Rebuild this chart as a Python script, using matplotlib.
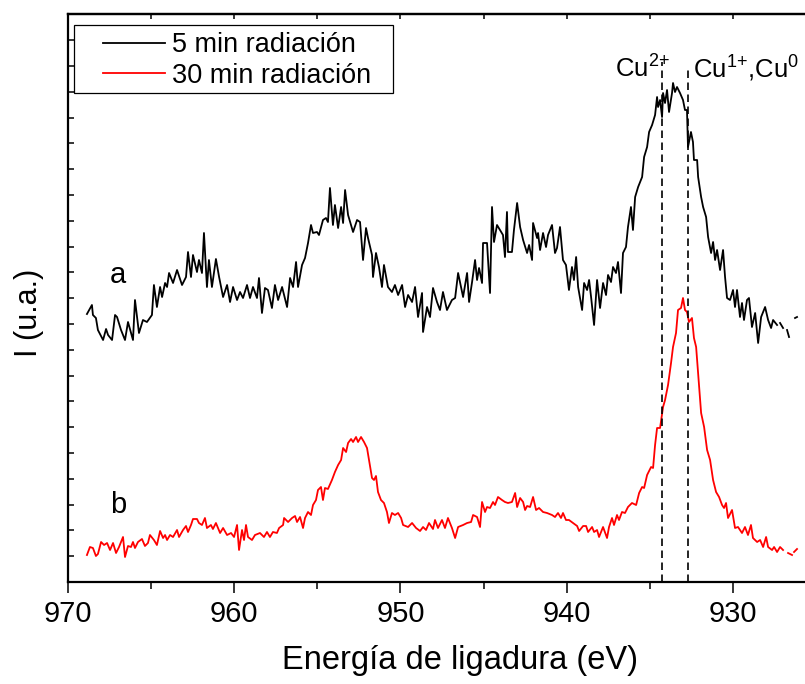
import numpy as np
import matplotlib
matplotlib.use('Agg')
import matplotlib.pyplot as plt
from matplotlib.ticker import MultipleLocator
from matplotlib.patches import Rectangle

plt.rcParams['font.family'] = ['Liberation Sans', 'DejaVu Sans']
plt.rcParams['mathtext.fontset'] = 'custom'
plt.rcParams['mathtext.rm'] = 'Liberation Sans'
plt.rcParams['mathtext.default'] = 'rm'

nan = np.nan

# Cu 2p XPS spectrum, 5 min irradiation (curve a)
energy_5min = [
    968.86, 968.56, 968.50, 968.32, 968.20, 967.89, 967.71, 967.59, 967.35, 967.17,
    967.05, 966.81, 966.57, 966.39, 966.09, 965.97, 965.73, 965.49, 965.25, 964.95,
    964.83, 964.65, 964.46, 964.34, 964.16, 964.04, 963.92, 963.68, 963.44, 963.14,
    962.90, 962.78, 962.60, 962.48, 962.24, 962.12, 961.94, 961.82, 961.64, 961.52,
    961.34, 961.10, 960.91, 960.67, 960.43, 960.25, 960.07, 959.83, 959.65, 959.47,
    959.23, 959.05, 958.87, 958.63, 958.51, 958.33, 958.15, 957.97, 957.73, 957.55,
    957.36, 957.12, 956.82, 956.64, 956.46, 956.28, 956.16, 955.92, 955.74, 955.56,
    955.38, 955.26, 955.02, 954.90, 954.66, 954.48, 954.36, 954.24, 954.06, 953.94,
    953.75, 953.57, 953.45, 953.33, 953.15, 952.85, 952.61, 952.43, 952.25, 952.07,
    951.95, 951.71, 951.65, 951.47, 951.29, 951.11, 950.99, 950.75, 950.51, 950.33,
    950.14, 949.90, 949.72, 949.54, 949.30, 949.12, 948.94, 948.70, 948.64, 948.40,
    948.22, 948.04, 947.80, 947.62, 947.44, 947.20, 946.90, 946.71, 946.53, 946.23,
    945.99, 945.87, 945.69, 945.51, 945.39, 945.27, 945.09, 945.03, 944.79, 944.61,
    944.49, 944.37, 944.19, 944.01, 943.83, 943.71, 943.59, 943.53, 943.29, 943.17,
    942.98, 942.80, 942.62, 942.38, 942.26, 942.08, 942.02, 941.78, 941.72, 941.60,
    941.42, 941.24, 941.12, 940.88, 940.70, 940.58, 940.40, 940.22, 940.04, 939.86,
    939.68, 939.56, 939.43, 939.31, 939.07, 938.95, 938.77, 938.65, 938.53, 938.35,
    938.17, 937.99, 937.81, 937.63, 937.51, 937.33, 937.21, 937.03, 936.91, 936.73,
    936.61, 936.43, 936.31, 936.13, 936.01, 935.88, 935.70, 935.46, 935.34, 935.16,
    935.04, 934.86, 934.68, 934.56, 934.50, 934.38, 934.26, 934.20, 934.08, 933.96,
    933.84, 933.66, 933.60, 933.48, 933.36, 933.18, 933.00, 932.88, 932.76, 932.70,
    932.52, 932.40, 932.34, 932.15, 932.09, 931.91, 931.79, 931.61, 931.49, 931.31,
    931.19, 931.07, 930.95, 930.77, 930.59, 930.47, 930.35, 930.17, 929.99, 929.87,
    929.75, 929.57, 929.45, 929.33, 929.15, 929.03, 928.85, 928.66, 928.48, 928.30,
    928.06, 927.88, 927.70, 927.58, 927.34, 927.25, 927.16, 926.98, 926.86, 926.74,
    926.62, 926.44, 926.26, 926.14,
]
counts_5min = [
    268, 277, 267, 264, 252, 242, 253, 247, 242, 267,
    265, 252, 242, 260, 242, 282, 249, 262, 260, 267,
    297, 275, 295, 285, 299, 295, 309, 299, 312, 297,
    305, 330, 305, 327, 310, 322, 309, 349, 295, 322,
    295, 323, 305, 285, 297, 280, 295, 282, 290, 284,
    297, 284, 295, 284, 304, 269, 294, 292, 274, 297,
    282, 295, 275, 304, 295, 320, 295, 317, 324, 339,
    357, 349, 350, 347, 362, 364, 360, 394, 357, 377,
    354, 375, 359, 392, 367, 350, 362, 360, 322, 354,
    344, 327, 305, 329, 315, 295, 317, 295, 290, 297,
    287, 297, 275, 287, 280, 295, 265, 289, 250, 275,
    265, 294, 280, 272, 290, 272, 282, 284, 309, 285,
    309, 280, 300, 322, 302, 314, 299, 339, 339, 289,
    375, 340, 357, 352, 347, 325, 370, 330, 330, 352,
    379, 355, 342, 329, 337, 322, 359, 344, 349, 332,
    349, 335, 347, 357, 329, 334, 355, 322, 317, 292,
    315, 302, 325, 295, 272, 299, 292, 302, 285, 257,
    302, 274, 299, 287, 307, 300, 315, 309, 320, 289,
    329, 335, 355, 375, 352, 385, 395, 405, 425, 435,
    450, 457, 467, 485, 475, 482, 465, 489, 479, 492,
    470, 489, 499, 490, 495, 489, 482, 472, 472, 435,
    450, 440, 422, 422, 405, 385, 375, 365, 345, 329,
    340, 322, 332, 312, 332, 305, 284, 282, 292, 275,
    292, 265, 279, 262, 282, 284, 255, 269, 239, 265,
    275, 262, 254, 262, 257, nan, 259, 254, nan, 252,
    245, nan, 264, 265,
]

# Cu 2p XPS spectrum, 30 min irradiation (curve b)
energy_30min = [
    968.86, 968.68, 968.50, 968.32, 968.20, 968.01, 967.83, 967.65, 967.47, 967.29,
    967.11, 966.93, 966.69, 966.57, 966.39, 966.21, 966.09, 965.97, 965.79, 965.55,
    965.37, 965.19, 965.07, 964.83, 964.65, 964.46, 964.28, 964.16, 964.04, 963.86,
    963.68, 963.44, 963.32, 963.08, 962.90, 962.78, 962.60, 962.48, 962.24, 962.12,
    961.94, 961.76, 961.64, 961.40, 961.28, 961.10, 960.85, 960.67, 960.43, 960.19,
    960.01, 959.83, 959.71, 959.53, 959.41, 959.29, 959.17, 958.93, 958.75, 958.45,
    958.21, 958.03, 957.85, 957.67, 957.43, 957.30, 957.06, 957.00, 956.76, 956.52,
    956.34, 956.22, 956.04, 955.86, 955.74, 955.56, 955.38, 955.26, 955.08, 954.96,
    954.78, 954.66, 954.54, 954.36, 954.12, 953.94, 953.75, 953.57, 953.45, 953.27,
    953.15, 952.97, 952.85, 952.67, 952.55, 952.37, 952.19, 952.01, 951.89, 951.71,
    951.59, 951.47, 951.35, 951.17, 950.99, 950.81, 950.69, 950.51, 950.33, 950.14,
    949.96, 949.84, 949.54, 949.30, 949.06, 948.82, 948.64, 948.46, 948.28, 948.04,
    947.92, 947.74, 947.50, 947.32, 947.14, 946.90, 946.71, 946.53, 946.23, 945.99,
    945.75, 945.63, 945.39, 945.21, 945.09, 944.91, 944.79, 944.61, 944.43, 944.31,
    944.13, 943.89, 943.71, 943.53, 943.29, 943.10, 942.98, 942.80, 942.62, 942.50,
    942.38, 942.20, 942.02, 941.84, 941.66, 941.42, 941.18, 940.88, 940.70, 940.52,
    940.34, 940.22, 940.04, 939.86, 939.62, 939.37, 939.25, 939.01, 938.83, 938.71,
    938.47, 938.35, 938.17, 938.05, 937.81, 937.57, 937.45, 937.27, 937.15, 936.97,
    936.85, 936.67, 936.49, 936.31, 936.07, 935.82, 935.64, 935.46, 935.34, 935.16,
    934.92, 934.80, 934.68, 934.56, 934.38, 934.20, 934.08, 933.90, 933.72, 933.60,
    933.42, 933.30, 933.12, 933.00, 932.88, 932.76, 932.64, 932.46, 932.34, 932.21,
    932.09, 931.91, 931.73, 931.55, 931.37, 931.19, 931.01, 930.83, 930.65, 930.53,
    930.41, 930.29, 930.05, 929.87, 929.69, 929.45, 929.27, 929.09, 928.91, 928.79,
    928.54, 928.36, 928.18, 928.00, 927.88, 927.64, 927.52, 927.34, 927.16, 926.98,
    926.83, 926.68, 926.44, 926.38, 926.32, 926.14,
]
counts_30min = [
    27, 35, 34, 26, 28, 40, 37, 39, 32, 39,
    29, 35, 45, 25, 36, 35, 40, 34, 40, 43,
    36, 39, 47, 42, 37, 51, 44, 47, 42, 47,
    45, 52, 45, 52, 56, 50, 57, 63, 63, 59,
    57, 64, 54, 57, 53, 59, 49, 54, 47, 49,
    45, 57, 32, 52, 42, 57, 45, 42, 47, 49,
    45, 50, 45, 50, 49, 54, 57, 64, 60, 64,
    66, 60, 65, 54, 64, 70, 67, 77, 82, 92,
    95, 82, 94, 93, 102, 110, 117, 122, 134, 130,
    139, 143, 140, 145, 140, 145, 140, 134, 122, 104,
    102, 106, 90, 82, 79, 70, 59, 69, 67, 69,
    64, 57, 55, 59, 54, 51, 55, 52, 59, 53,
    62, 54, 62, 54, 64, 54, 44, 55, 57, 59,
    60, 67, 65, 55, 80, 70, 75, 74, 80, 77,
    85, 82, 80, 79, 80, 89, 75, 84, 80, 72,
    76, 75, 85, 72, 74, 70, 69, 67, 65, 69,
    64, 69, 62, 62, 59, 56, 51, 56, 56, 50,
    55, 50, 52, 45, 55, 44, 55, 64, 57, 67,
    62, 70, 69, 75, 79, 77, 89, 95, 94, 107,
    115, 114, 137, 154, 154, 175, 182, 197, 219, 235,
    249, 272, 274, 284, 272, 270, 260, 264, 244, 235,
    209, 169, 155, 132, 122, 102, 90, 85, 77, 74,
    79, 64, 72, 54, 55, 49, 55, 47, 57, 44,
    40, 42, 35, 45, 35, 32, 35, 30, 35, 32,
    nan, 29, 27, nan, 30, 33,
]

peak_labels = ['Cu$^{2{+}}$', 'Cu$^{1{+}}$,Cu$^{0}$']
peak_energies = [934.26, 932.70]

fig = plt.figure(figsize=(8.05, 6.84), dpi=100)
ax = fig.add_axes([68 / 805, 1 - 582 / 684, 737 / 805, 568 / 684])

ax.plot(energy_5min, counts_5min, color='black', lw=1.3, label='5 min radiación')
ax.plot(energy_30min, counts_30min, color='red', lw=1.3, label='30 min radiación')

# reference positions of the copper oxidation states
ax.vlines(peak_energies[0], 0, 520, colors='black', lw=1.2,
          linestyles=(0, (4.5, 2.7)))
ax.vlines(peak_energies[1], 0, 515, colors='black', lw=1.2,
          linestyles=(0, (4.5, 2.7)))
ax.text(937.12, 504, peak_labels[0], fontsize=18.5, ha='left', va='baseline')
ax.text(932.42, 504, peak_labels[1], fontsize=18.5, ha='left', va='baseline')

ax.text(967.0, 299, 'a', fontsize=21, ha='center', va='baseline')
ax.text(966.95, 69, 'b', fontsize=21, ha='center', va='baseline')

ax.set_xlim(970, 925.66)
ax.set_ylim(0, 568)

ax.xaxis.set_major_locator(MultipleLocator(10))
ax.xaxis.set_minor_locator(MultipleLocator(5))
ax.yaxis.set_major_locator(MultipleLocator(25.8))
ax.tick_params(axis='x', which='major', direction='out', length=8, width=1.1,
               labelsize=21, pad=5, top=False)
ax.tick_params(axis='x', which='minor', direction='out', length=4.7, width=1.1,
               top=False)
ax.tick_params(axis='y', which='major', direction='in', length=4.5, width=1.1,
               labelleft=False, right=False)

top = ax.secondary_xaxis('top')
top.xaxis.set_major_locator(MultipleLocator(5))
top.tick_params(direction='in', length=3.5, width=1.1, labeltop=False)
top.spines['top'].set_linewidth(1.6)

for side in ['left', 'bottom', 'top']:
    ax.spines[side].set_linewidth(1.6)
ax.spines['right'].set_visible(False)

ax.set_xlabel('Energía de ligadura (eV)', fontsize=23.5)
ax.xaxis.set_label_coords(0.532, -0.111)
ax.set_ylabel('I (u.a.)', fontsize=22)
ax.yaxis.set_label_coords(-0.0326, 0.474)

ax.legend(loc='center left', bbox_to_anchor=(103 / 805, 1 - 60.5 / 684),
          bbox_transform=fig.transFigure, frameon=False, borderpad=0,
          borderaxespad=0, handlelength=2.3, handletextpad=0.26,
          labelspacing=0.17, fontsize=19.5)
fig.add_artist(Rectangle((74 / 805, 1 - 93 / 684), 319 / 805, 68 / 684,
                         transform=fig.transFigure, fill=False,
                         edgecolor='black', lw=0.9))

fig.savefig('out.png', dpi=100)
